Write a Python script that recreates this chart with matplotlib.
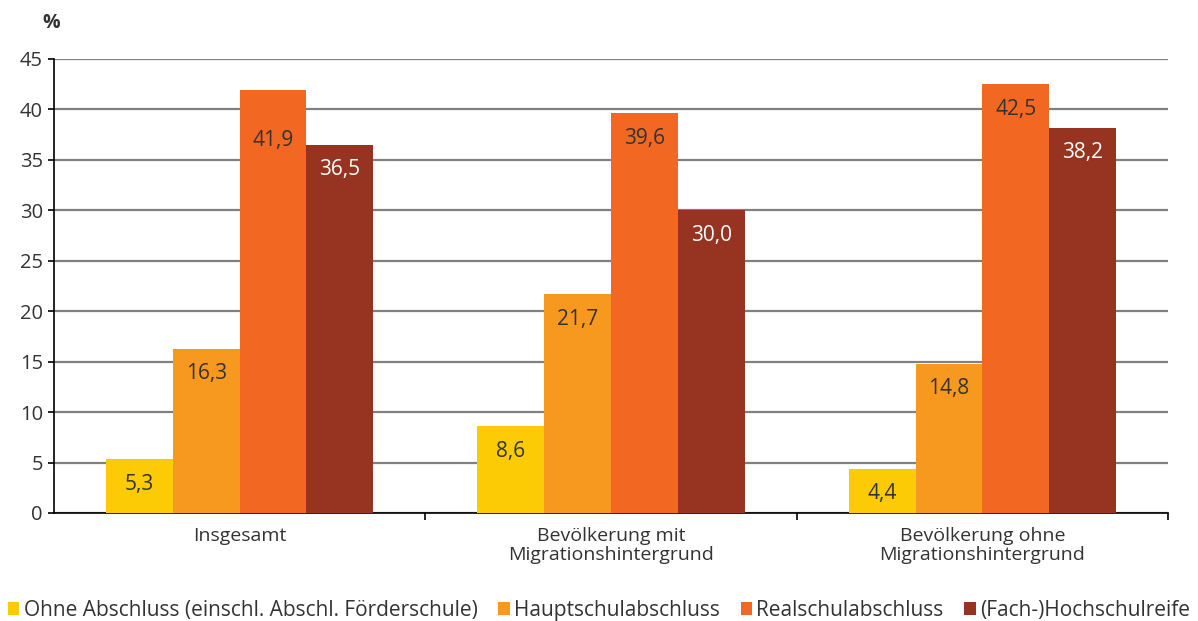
import numpy as np
import matplotlib
matplotlib.use("Agg")
import matplotlib.pyplot as plt

plt.rcParams['font.family'] = ['Open Sans', 'DejaVu Sans']

categories = ["Insgesamt", "Bevölkerung mit\nMigrationshintergrund", "Bevölkerung ohne\nMigrationshintergrund"]
series = ["Ohne Abschluss (einschl. Abschl. Förderschule)", "Hauptschulabschluss",
          "Realschulabschluss", "(Fach-)Hochschulreife"]
ohne = [5.3, 8.6, 4.4]
haupt = [16.3, 21.7, 14.8]
real = [41.9, 39.6, 42.5]
hoch = [36.5, 30.0, 38.2]
values = [ohne, haupt, real, hoch]
colors = ["#FDCB05", "#F7991F", "#F26722", "#963421"]
label_colors = ["#333333", "#333333", "#333333", "white"]

fig = plt.figure(figsize=(11.98, 6.21), dpi=100)
ax = fig.add_axes([0.045, 0.174, 0.93, 0.731])

x = np.arange(len(categories))
w = 0.18
for i, (vals, col) in enumerate(zip(values, colors)):
    pos = x + (i - 1.5) * w
    bars = ax.bar(pos, vals, w, color=col, label=series[i], zorder=3)
    for j, (b, v) in enumerate(zip(bars, vals)):
        # the first Realschul label sits lower in the original
        dy = -36 if (i == 2 and j == 0) else -18
        ax.annotate(f"{v:.1f}".replace(".", ","), (b.get_x() + b.get_width() / 2, v),
                    xytext=(0, dy), textcoords="offset points", ha="center", va="center",
                    fontsize=15, color=label_colors[i], zorder=4)

ax.set_xlim(-0.5, 2.5)
ax.set_ylim(0, 45)
ax.set_yticks(range(0, 46, 5))
ax.yaxis.grid(True, color="#808080", linewidth=1.6, zorder=0)
ax.set_axisbelow(True)
ax.set_xticks([0.5, 1.5, 2.5])
ax.set_xticklabels([])
ax.set_xticks(x, minor=True)
ax.set_xticklabels(categories, minor=True, fontsize=14, color="#333333", linespacing=1.05)
ax.tick_params(axis="x", which="minor", length=0, pad=10)
ax.tick_params(axis="x", which="major", length=5, width=1.2, direction="out")
ax.tick_params(axis="y", length=4, width=1.2, labelsize=14.5, labelcolor="#333333", pad=4)

for s in ["top", "right"]:
    ax.spines[s].set_visible(False)
ax.spines["left"].set_linewidth(1.2)
ax.spines["bottom"].set_linewidth(1.2)

fig.text(0.043, 0.963, "%", fontsize=14, fontweight="bold", color="#333333", ha="center", va="center")

fig.legend(loc="lower center", bbox_to_anchor=(0.5, -0.03), ncol=4, frameon=False,
           fontsize=15, handlelength=0.55, handleheight=0.55, handletextpad=0.2,
           columnspacing=1.0, labelcolor="#333333")

fig.savefig("out.png", dpi=100)
